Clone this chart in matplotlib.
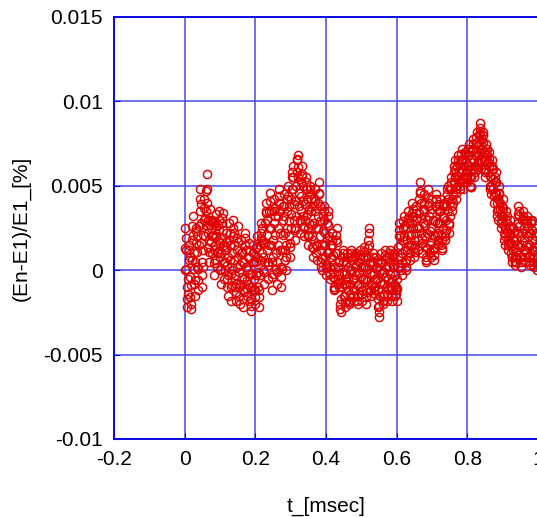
import numpy as np
import matplotlib
matplotlib.use('Agg')
import matplotlib.pyplot as plt

plt.rcParams['font.family'] = ['Liberation Sans', 'DejaVu Sans']

# time step of the saved samples [msec]
dt = 0.001

# energy error, in units of 1e-3 %, twenty samples (0.02 msec) per row
err_milli = [
    0.0, 1.3, 2.5, 1.9, 1.2, 0.1, -1.0, -1.7, -2.2, -1.4, -0.5, 0.6, 1.5, 1.2, 0.8, -0.4, -1.6, -2.0, -2.3, -0.9,
    0.6, 1.8, 2.6, 3.2, 2.1, 1.0, 0.1, -0.8, -1.5, -0.6, 0.5, 1.6, 2.5, 2.3, 2.0, 1.1, 0.2, -0.6, -1.2, 0.1,
    1.5, 2.6, 3.5, 4.2, 4.8, 3.9, 2.8, 1.6, 0.5, -0.3, -1.0, 0.2, 1.2, 2.1, 3.0, 3.7, 4.2, 3.1, 2.0, 2.7,
    3.5, 4.7, 5.7, 4.8, 4.0, 3.0, 2.2, 1.3, 0.5, 1.1, 1.8, 2.7, 3.6, 3.0, 2.5, 1.7, 1.0, 2.0, 3.0, 2.9,
    2.8, 2.0, 1.2, 0.4, -0.3, 0.6, 1.5, 2.4, 3.3, 2.6, 2.0, 1.1, 0.2, 1.0, 1.8, 2.7, 3.5, 3.0, 2.4, 1.6,
    0.8, 0.0, -0.8, 0.1, 1.0, 1.9, 2.8, 3.1, 3.4, 2.4, 1.5, 0.5, -0.5, 0.0, 0.5, 1.4, 2.2, 1.7, 1.2, 0.3,
    -0.5, -1.0, -1.5, -0.3, 0.8, 1.8, 2.8, 2.2, 1.5, 0.6, -0.2, -1.0, -1.8, -0.9, 0.0, 1.0, 2.0, 2.5, 3.0, 2.2,
    1.5, 0.6, -0.3, -1.0, -1.8, -1.3, -0.8, 0.2, 1.2, 1.9, 2.6, 1.7, 0.8, -0.1, -1.0, -1.5, -2.0, -0.8, 0.3, 1.0,
    1.8, 1.1, 0.5, -0.4, -1.2, -1.7, -2.2, -1.3, -0.5, 0.5, 1.5, 1.9, 2.2, 1.2, 0.2, -0.6, -1.5, -1.1, -0.8, 0.0,
    0.8, 1.2, 1.6, 0.7, -0.2, -1.0, -1.8, -2.1, -2.4, -1.7, -1.0, -0.2, 0.5, 1.0, 1.5, 0.5, -0.5, -1.2, -2.0, -1.6,
    -1.2, -0.3, 0.5, 1.3, 2.0, 1.4, 0.8, -0.1, -1.0, -1.6, -2.2, -1.2, -0.3, 0.6, 1.5, 2.2, 2.8, 1.9, 1.0, 1.8,
    2.5, 1.6, 0.8, 0.0, -0.8, -0.1, 0.5, 1.6, 2.8, 3.4, 4.0, 3.5, 3.0, 2.1, 1.2, 0.3, -0.5, 0.5, 1.5, 2.5,
    3.5, 4.1, 4.6, 3.5, 2.5, 1.5, 0.5, -0.4, -1.2, -0.2, 0.8, 1.8, 2.8, 3.5, 4.2, 3.7, 3.2, 2.1, 1.0, 0.1,
    -0.8, -0.1, 0.5, 1.5, 2.5, 3.2, 4.0, 4.4, 4.8, 3.5, 2.2, 1.2, 0.2, -0.4, -1.0, 0.1, 1.2, 2.1, 3.0, 3.8,
    4.5, 3.8, 3.2, 2.2, 1.2, 0.6, 0.0, 0.8, 1.5, 2.5, 3.5, 4.2, 5.0, 4.4, 3.8, 2.9, 2.0, 1.4, 0.8, 1.6,
    2.5, 3.3, 4.2, 4.8, 5.5, 5.8, 6.2, 5.5, 4.8, 3.9, 3.0, 2.4, 1.8, 2.5, 3.2, 4.1, 5.0, 5.8, 6.5, 6.6,
    6.8, 6.1, 5.5, 4.6, 3.8, 3.0, 2.2, 2.9, 3.5, 4.4, 5.2, 5.7, 6.2, 5.6, 5.0, 4.1, 3.2, 2.6, 2.0, 2.5,
    3.0, 3.9, 4.8, 5.2, 5.5, 4.8, 4.2, 3.3, 2.5, 2.0, 1.5, 2.1, 2.8, 3.6, 4.5, 4.8, 5.0, 4.2, 3.5, 2.7,
    2.0, 1.4, 0.8, 1.3, 1.8, 2.8, 3.8, 4.3, 4.8, 4.1, 3.5, 2.5, 1.5, 1.0, 0.6, 1.5, 2.5, 3.2, 4.0, 4.6,
    5.2, 4.5, 3.8, 2.9, 2.0, 1.2, 0.5, 0.2, 0.0, 0.7, 1.5, 2.3, 3.2, 3.5, 3.8, 3.0, 2.2, 1.5, 0.8, 0.2,
    -0.3, 0.3, 1.0, 1.9, 2.8, 3.2, 3.5, 2.7, 2.0, 1.1, 0.2, -0.2, -0.5, 0.1, 0.8, 1.5, 2.2, 1.8, 1.5, 0.9,
    0.3, -0.4, -1.0, -1.1, -1.2, -0.5, 0.2, 1.0, 1.8, 2.1, 2.5, 1.7, 1.0, 0.2, -0.5, -0.8, -1.0, -0.3, 0.5, -0.7,
    -2.0, -2.3, -2.5, -1.7, -1.0, -0.1, 0.8, 1.0, 1.2, 0.5, -0.2, -0.8, -1.5, -1.9, -2.2, -1.5, -0.8, -0.2, 0.5, 0.8,
    1.0, 0.2, -0.5, -1.2, -1.8, -1.9, -2.0, -1.4, -0.8, 0.0, 0.8, 1.0, 1.2, 0.6, 0.0, -0.6, -1.2, -1.5, -1.8, -1.2,
    -0.5, 0.2, 0.8, 0.9, 1.0, 0.3, -0.3, -0.9, -1.5, -1.8, -2.0, -1.4, -0.8, -0.1, 0.5, 0.9, 1.2, 0.7, 0.2, -0.4,
    -1.0, -1.4, -1.8, -1.2, -0.5, 0.2, 0.8, 1.1, 1.4, 0.8, 0.2, -0.5, -1.2, -1.6, -2.0, -1.3, -0.6, 0.1, 0.8, 1.3,
    1.8, 2.2, 2.5, 1.5, 0.5, -0.2, -0.8, -1.2, -1.5, -0.9, -0.3, 0.3, 1.0, 0.8, 0.5, -0.2, -1.0, -1.2, -1.4, -1.0,
    -0.5, 0.2, 0.8, 0.5, 0.2, -0.5, -1.2, -1.7, -2.2, -2.5, -2.8, -2.1, -1.5, -0.7, 0.0, 0.5, 1.0, 0.4, -0.2, -0.8,
    -1.5, -1.8, -2.0, -1.4, -0.8, -0.1, 0.6, 0.9, 1.2, 0.7, 0.2, -0.4, -1.0, -1.4, -1.8, -1.1, -0.5, 0.2, 0.8, 1.0,
    1.2, 0.5, -0.2, -0.7, -1.2, -1.5, -1.8, -1.1, -0.5, 0.2, 0.8, 0.9, 1.0, 0.3, -0.3, -0.9, -1.5, -1.2, -1.0, -1.4,
    -1.8, -1.1, -0.5, 0.2, 0.8, 1.4, 2.0, 2.4, 2.8, 2.1, 1.5, 0.8, 0.2, 0.0, -0.3, 0.4, 1.0, 1.8, 2.5, 2.9,
    3.2, 2.6, 2.0, 1.2, 0.5, 0.2, 0.0, 0.6, 1.2, 1.8, 2.5, 3.0, 3.5, 3.1, 2.8, 2.1, 1.5, 1.0, 0.6, 1.0,
    1.5, 2.1, 2.8, 3.4, 4.0, 3.6, 3.2, 2.5, 1.8, 1.3, 0.8, 1.1, 1.5, 2.2, 3.0, 3.4, 3.8, 3.1, 2.5, 1.8,
    1.2, 1.8, 2.5, 3.4, 4.2, 4.7, 5.2, 4.6, 4.0, 3.1, 2.2, 1.6, 1.0, 1.9, 2.8, 3.6, 4.5, 4.0, 3.5, 2.7,
    2.0, 1.4, 0.8, 0.6, 0.5, 1.3, 2.2, 3.0, 3.8, 4.3, 4.8, 4.0, 3.2, 2.3, 1.5, 1.1, 0.8, 1.6, 2.5, 3.4,
    4.2, 3.6, 3.0, 2.1, 1.2, 0.9, 0.6, 1.3, 2.0, 2.9, 3.8, 4.2, 4.5, 3.6, 2.8, 2.1, 1.5, 1.8, 2.2, 2.8,
    3.5, 3.9, 4.2, 3.5, 2.8, 2.1, 1.5, 1.3, 1.2, 1.8, 2.5, 3.2, 3.8, 3.9, 4.0, 3.1, 2.2, 2.0, 1.8, 2.4,
    3.0, 3.8, 4.5, 4.8, 5.0, 4.2, 3.5, 2.8, 2.2, 2.7, 3.2, 4.0, 4.8, 5.2, 5.5, 4.8, 4.2, 3.8, 3.5, 4.0,
    4.5, 5.2, 5.8, 6.2, 6.5, 6.0, 5.5, 4.8, 4.2, 4.6, 5.0, 5.6, 6.2, 6.5, 6.8, 6.3, 5.8, 5.3, 4.8, 5.0,
    5.2, 5.8, 6.5, 6.9, 7.2, 6.6, 6.0, 5.4, 4.8, 5.2, 5.5, 6.2, 6.8, 6.9, 7.0, 6.4, 5.8, 5.5, 5.2, 5.4,
    5.5, 6.2, 6.8, 7.2, 7.5, 6.8, 6.2, 5.6, 5.0, 4.9, 4.9, 5.5, 6.0, 6.6, 7.2, 7.5, 7.8, 7.2, 6.5, 6.0,
    5.5, 5.8, 6.2, 6.8, 7.5, 7.9, 8.2, 7.6, 7.0, 6.5, 6.0, 6.4, 6.8, 7.4, 8.0, 8.4, 8.7, 8.1, 7.5, 7.0,
    6.5, 7.2, 7.8, 8.0, 8.2, 7.6, 7.0, 6.5, 6.0, 5.8, 5.5, 6.0, 6.5, 7.0, 7.5, 7.2, 6.8, 6.3, 5.8, 6.4,
    7.0, 6.6, 6.2, 5.6, 5.0, 4.8, 4.5, 5.0, 5.5, 6.0, 6.5, 6.2, 6.0, 5.4, 4.8, 4.4, 4.0, 4.6, 5.2, 5.5,
    5.8, 5.2, 4.5, 4.0, 3.5, 3.2, 3.0, 3.6, 4.2, 4.6, 5.0, 4.5, 4.0, 3.6, 3.2, 2.8, 2.5, 3.0, 3.5, 3.8,
    4.2, 3.7, 3.2, 2.7, 2.2, 1.8, 1.5, 2.0, 2.5, 3.0, 3.5, 3.2, 2.8, 2.3, 1.8, 1.5, 1.2, 1.6, 2.0, 2.5,
    3.0, 2.6, 2.2, 1.6, 1.0, 0.8, 0.5, 0.8, 1.2, 1.9, 2.5, 2.2, 1.8, 1.3, 0.8, 0.5, 0.3, 0.5, 0.8, 1.1,
    1.5, 2.2, 2.8, 3.3, 3.8, 3.5, 3.2, 2.6, 2.0, 1.4, 0.8, 0.5, 0.2, 0.8, 1.5, 2.2, 3.0, 3.2, 3.5, 3.0,
    2.5, 1.8, 1.2, 0.8, 0.5, 1.0, 1.5, 2.2, 2.8, 3.0, 3.2, 2.6, 2.0, 1.4, 0.8, 0.5, 0.3, 0.9, 1.5, 2.2,
    2.8, 2.9, 3.0, 2.4, 1.8, 1.2, 0.5, 0.3, 0.2, 0.7, 1.2, 1.8, 2.5, 2.2, 2.0, 1.4, 0.8, 0.4, 0.0, 0.5,
    1.0, 1.5, 2.0,
]

xticks = [-0.2, 0, 0.2, 0.4, 0.6, 0.8, 1]
xticklabels = ['-0.2', '0', '0.2', '0.4', '0.6', '0.8', '1']
yticks = [-0.01, -0.005, 0, 0.005, 0.01, 0.015]
yticklabels = ['-0.01', '-0.005', '0', '0.005', '0.01', '0.015']

err = np.array(err_milli) * 1e-3
t = np.arange(len(err)) * dt

fig = plt.figure(figsize=(5.37, 5.17), dpi=100)
ax = fig.add_axes([114 / 537, 78 / 517, 424 / 537, 422 / 517])

ax.plot(t, err, linestyle='none', marker='o', markersize=5.9,
        markerfacecolor='none', markeredgecolor='#e00000',
        markeredgewidth=1.05, zorder=3)

ax.set_xlim(-0.2, 1.0)
ax.set_ylim(-0.01, 0.015)
ax.set_xticks(xticks)
ax.set_xticklabels(xticklabels)
ax.set_yticks(yticks)
ax.set_yticklabels(yticklabels)

ax.grid(True, color='#4848ee', linewidth=1.3, alpha=0.85, zorder=0)
ax.set_axisbelow(True)
for s in ax.spines.values():
    s.set_color('#0a0ae0')
    s.set_linewidth(1.4)
ax.tick_params(direction='in', length=4, color='#0a0ae0',
               labelsize=15, pad=8)

ax.set_xlabel('t_[msec]', fontsize=15, labelpad=20)
ax.set_ylabel('(En-E1)/E1_[%]', fontsize=15, labelpad=9)

fig.savefig('out.png', dpi=100)
